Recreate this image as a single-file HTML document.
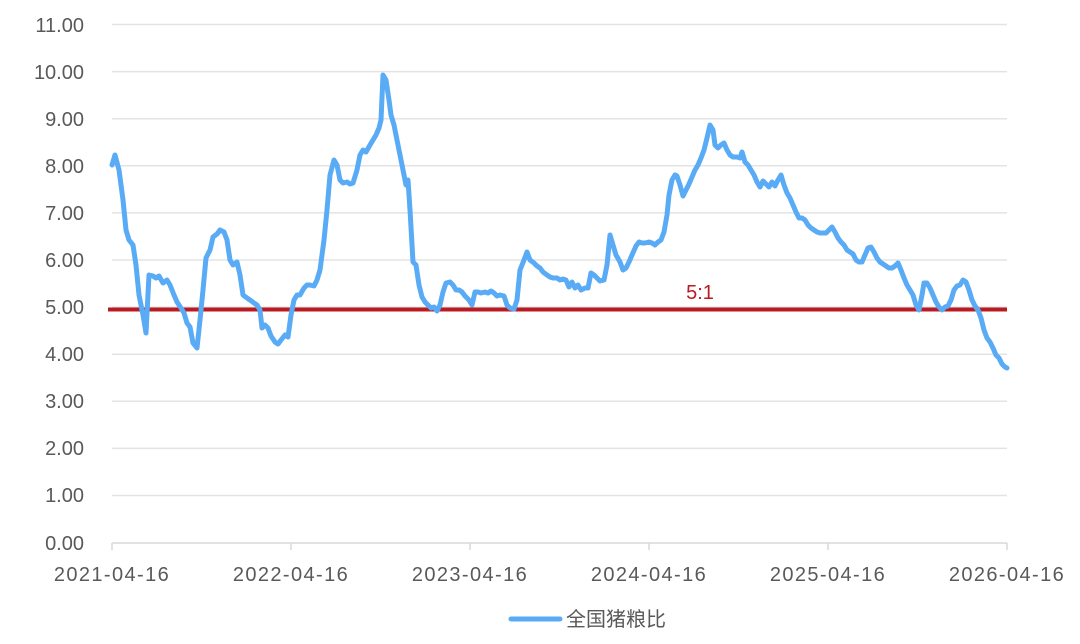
<!DOCTYPE html>
<html><head><meta charset="utf-8"><style>
html,body{margin:0;padding:0;background:#fff;}
svg text{font-family:"Liberation Sans","Noto Sans CJK SC",sans-serif;fill:#595959;font-size:20px;}
.t{letter-spacing:1.4px;}
</style></head><body>
<svg width="1080" height="639" xmlns="http://www.w3.org/2000/svg">
<g stroke="#e3e3e3" stroke-width="1.5">
<line x1="112" x2="1007" y1="24.5" y2="24.5"/><line x1="112" x2="1007" y1="71.6" y2="71.6"/>
<line x1="112" x2="1007" y1="118.7" y2="118.7"/><line x1="112" x2="1007" y1="165.8" y2="165.8"/>
<line x1="112" x2="1007" y1="212.9" y2="212.9"/><line x1="112" x2="1007" y1="260" y2="260"/>
<line x1="112" x2="1007" y1="307.1" y2="307.1"/><line x1="112" x2="1007" y1="354.2" y2="354.2"/>
<line x1="112" x2="1007" y1="401.3" y2="401.3"/><line x1="112" x2="1007" y1="448.4" y2="448.4"/>
<line x1="112" x2="1007" y1="495.5" y2="495.5"/>
</g>
<g stroke="#d9d9d9" stroke-width="1.5">
<line x1="112" x2="1007" y1="543" y2="543"/>
<line x1="112" x2="112" y1="543" y2="550"/><line x1="291" x2="291" y1="543" y2="550"/>
<line x1="470" x2="470" y1="543" y2="550"/><line x1="649" x2="649" y1="543" y2="550"/>
<line x1="828" x2="828" y1="543" y2="550"/><line x1="1007" x2="1007" y1="543" y2="550"/>
</g>
<g text-anchor="end">
<text x="84" y="32">11.00</text><text x="84" y="79">10.00</text><text x="84" y="126">9.00</text>
<text x="84" y="173">8.00</text><text x="84" y="220">7.00</text><text x="84" y="267">6.00</text>
<text x="84" y="314">5.00</text><text x="84" y="361">4.00</text><text x="84" y="408">3.00</text>
<text x="84" y="455">2.00</text><text x="84" y="502">1.00</text><text x="84" y="550">0.00</text>
</g>
<g text-anchor="middle" class="t">
<text x="112" y="581">2021-04-16</text><text x="291" y="581">2022-04-16</text><text x="470" y="581">2023-04-16</text>
<text x="649" y="581">2024-04-16</text><text x="828" y="581">2025-04-16</text><text x="1007" y="581">2026-04-16</text>
</g>
<line x1="108" x2="1007" y1="309.5" y2="309.5" stroke="#b81c22" stroke-width="4"/>
<text x="700" y="299" text-anchor="middle" style="fill:#b81c22;font-size:20px">5:1</text>
<polyline fill="none" stroke="#5aabf5" stroke-width="5" stroke-linejoin="round" stroke-linecap="round" points="112,165 115,155 119,170 123,200 126,230 129,240 133,245 136,265 139,295 143,315 146,333 149,275 153,276 156,278 159,276 163,283 167,280 170,285 174,295 177,302 181,308 184,313 187,323 190,327 193,343 197,348 200,320 203,290 206,258 210,250 213,237 217,234 220,230 224,232 227,240 230,260 233,265 237,262 240,275 243,295 247,298 250,300 254,303 257,305 260,310 262,328 265,325 268,328 271,336 275,342 278,344 281,340 285,335 288,337 291,315 294,300 297,295 300,295 304,288 307,285 310,285 314,286 317,280 320,270 324,240 327,210 330,175 334,160 337,165 340,180 343,183 347,182 350,184 353,183 357,170 360,155 363,150 366,152 370,145 373,140 376,135 379,128 381,120 383,75 386,80 389,100 391,115 394,125 397,140 400,155 403,170 406,185 408,180 410,210 413,262 416,265 419,285 422,297 425,302 428,305 431,308 434,307 437,311 440,305 443,292 446,283 450,282 453,285 456,290 459,290 462,292 465,296 469,300 472,305 475,292 478,292 481,293 485,292 488,293 491,291 494,293 497,296 500,295 504,296 507,305 510,308 514,309 517,300 520,270 524,260 527,252 530,260 534,263 537,266 540,268 543,272 547,275 550,277 553,278 557,278 560,280 563,279 566,280 569,287 572,282 575,288 578,285 581,290 585,288 588,288 591,273 594,275 597,278 600,281 604,280 607,265 610,235 613,245 616,255 620,262 623,270 626,268 629,262 632,255 636,246 639,242 642,243 645,243 649,242 652,243 655,245 658,242 661,240 664,232 667,215 669,195 672,180 675,175 677,176 680,185 683,196 686,190 689,184 692,177 695,170 698,165 701,158 704,150 707,138 710,125 713,130 715,145 718,148 721,145 724,143 727,150 730,155 733,157 737,157 740,158 742,152 745,162 748,165 751,170 754,175 757,182 760,187 763,181 766,184 769,187 772,182 775,186 778,180 781,175 784,185 787,193 790,198 793,205 796,212 799,218 802,218 805,220 808,225 811,228 814,230 817,232 820,233 823,233 826,233 829,230 832,227 835,232 838,238 841,242 844,245 847,250 850,252 853,254 856,260 859,262 862,262 865,255 868,248 871,247 874,252 877,258 880,262 883,264 886,266 889,268 892,268 895,266 898,263 901,270 904,278 907,285 910,290 913,295 916,305 919,310 922,295 924,283 927,283 930,288 933,295 936,302 939,307 942,310 945,307 948,306 951,300 954,290 957,286 960,285 963,280 966,282 969,290 972,300 975,306 978,310 981,318 984,330 987,338 990,342 993,348 996,355 999,358 1002,364 1005,367 1007,368"/>
<line x1="511" x2="560" y1="619" y2="619" stroke="#5aabf5" stroke-width="5" stroke-linecap="round"/>
<text x="566" y="626">全国猪粮比</text>
</svg>
</body></html>
